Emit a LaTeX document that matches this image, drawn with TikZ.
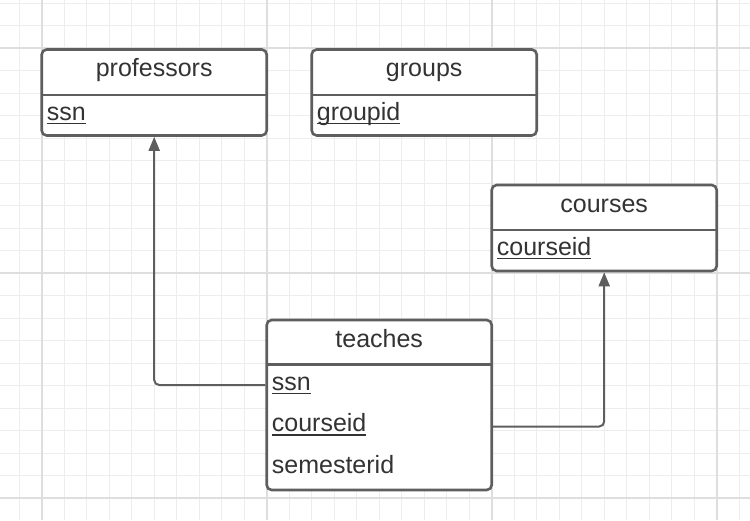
\documentclass[tikz,border=0pt]{standalone}
\usepackage{fontspec}
\setmainfont{Liberation Sans}
\usepackage{xcolor}
\usetikzlibrary{arrows.meta}
\definecolor{linegray}{HTML}{5E5E5E}
\definecolor{textgray}{HTML}{333333}
\definecolor{minorgrid}{HTML}{EDEDED}
\definecolor{majorgrid}{HTML}{DEDEDE}
\newcommand\pk[1]{\setbox0\hbox{#1}\rlap{\rule[-4.3pt]{\wd0}{1.4pt}}\box0}
\tikzset{
  table/.style={draw=linegray, line width=2.6pt, rounded corners=5pt, fill=white,
    minimum width=225pt, inner sep=0pt, anchor=north west},
  divider/.style={draw=linegray, line width=2.6pt},
  title/.style={text=textgray, font=\fontsize{25}{30}\selectfont, anchor=base, inner sep=0pt},
  attr/.style={text=textgray, font=\fontsize{25}{30}\selectfont, anchor=base west,
    inner xsep=6.3pt, inner ysep=0pt, text height=15pt, text depth=5pt},
  link/.style={draw=linegray, line width=2pt, rounded corners=5pt,
    -{Triangle[length=14pt,width=11pt]}}
}

\begin{document}
\begin{tikzpicture}[x=1pt,y=-1pt]
    \useasboundingbox (0,0) rectangle (750,520);
      \begin{scope}
    \clip (0,0) rectangle (750,520);
    \foreach \i in {-1,...,31}
      \draw[minorgrid, line width=1.3pt] (41.7+22.5*\i,0) -- (41.7+22.5*\i,520);
    \foreach \j in {-2,...,20}
      \draw[minorgrid, line width=1.3pt] (0,48.3+22.5*\j) -- (750,48.3+22.5*\j);
    \foreach \i in {0,10,20,30}
      \draw[majorgrid, line width=2pt] (41.7+22.5*\i,0) -- (41.7+22.5*\i,520);
    \foreach \j in {0,10,20}
      \draw[majorgrid, line width=2pt] (0,48.3+22.5*\j) -- (750,48.3+22.5*\j);
      \end{scope}
      % tables
      \node[table, minimum height=86pt] (professors) at (40.4,48.2) {};
      \node[table, minimum height=86pt] (groups) at (310.4,48.2) {};
      \node[table, minimum height=86pt] (courses) at (490.4,183.7) {};
      \node[table, minimum height=170pt] (teaches) at (265.4,318.7) {};
      \foreach \t/\h in {professors/46.8, groups/46.8, courses/46.3, teaches/45.8}
        \draw[divider] ([xshift=1.3pt,yshift=-\h pt]\t.north west) -- ([xshift=-1.3pt,yshift=-\h pt]\t.north east);
      \foreach \t in {professors, groups, courses, teaches}
        \node[title] (\t-title) at ([yshift=-28.3pt]\t.north) {\t};
      \node[attr] (professors-ssn) at ([yshift=-71.8pt]professors.north west) {\pk{ssn}};
      \node[attr] (groups-groupid) at ([yshift=-71.8pt]groups.north west) {\pk{groupid}};
      \node[attr] (courses-courseid) at ([yshift=-71.3pt]courses.north west) {\pk{courseid}};
      \node[attr] (teaches-ssn) at ([yshift=-71.3pt]teaches.north west) {\pk{ssn}};
      \node[attr] (teaches-courseid) at ([yshift=-112.8pt]teaches.north west) {\pk{courseid}};
      \node[attr] (teaches-semesterid) at ([yshift=-154.3pt]teaches.north west) {semesterid};
      % links
      \draw[link] (teaches-ssn.west) -| (professors.south);
      \draw[link] (teaches.east |- teaches-courseid.west) -| (courses.south);
    \end{tikzpicture}
\end{document}
